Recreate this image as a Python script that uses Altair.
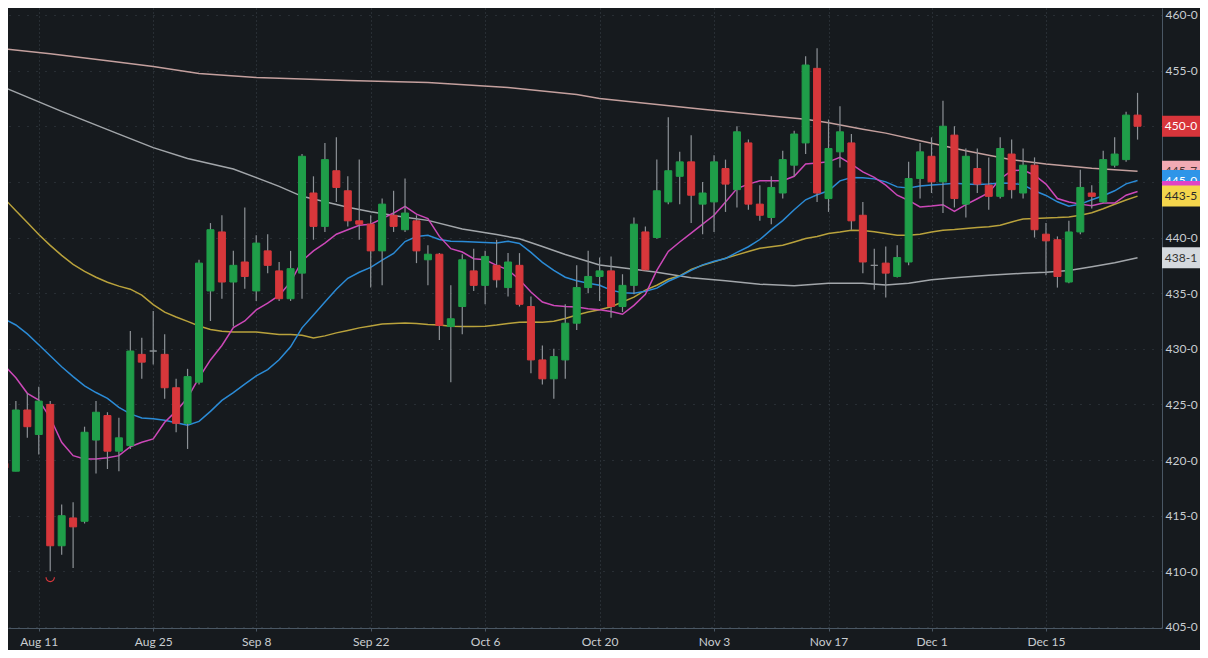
import json
import altair as alt
import pandas as pd

# ---------------- data ----------------
opens = [419.7, 419.0, 424.5, 422.3, 425.0, 412.3, 414.8, 414.5, 421.8, 424.0,
         420.8, 421.3, 429.5, 429.8, 429.5, 426.5, 423.3, 427.0, 435.2, 440.5,
         436.0, 437.8, 435.2, 438.8, 437.0, 434.5, 436.8, 444.0, 441.0, 446.0,
         444.2, 441.5, 441.2, 438.8, 442.0, 440.7, 441.5, 438.0, 438.5, 432.0,
         433.8, 437.0, 435.7, 437.5, 435.5, 437.5, 433.8, 429.0, 427.3, 429.0,
         432.3, 435.5, 436.5, 437.0, 433.8, 435.7, 440.5, 440.0, 443.2, 445.5,
         446.8, 443.0, 443.2, 446.2, 444.3, 448.5, 443.0, 441.8, 444.0, 446.5,
         448.5, 455.2, 443.5, 447.7, 448.5, 442.0, 437.5, 437.7, 436.5, 437.8,
         445.3, 447.3, 445.0, 449.2, 443.0, 446.2, 444.7, 443.7, 447.5, 444.0,
         446.5, 440.3, 439.8, 436.0, 440.5, 444.0, 443.2, 446.5, 447.0, 451.0]
highs = [420.2, 425.3, 426.0, 426.6, 425.3, 416.0, 416.2, 423.0, 425.3, 424.3,
         423.8, 431.6, 431.0, 433.4, 431.3, 427.3, 428.2, 438.0, 441.3, 442.0,
         438.8, 442.7, 440.2, 440.3, 437.8, 438.8, 447.5, 445.5, 448.5, 449.0,
         445.5, 447.0, 442.0, 443.5, 444.2, 445.3, 442.0, 439.3, 438.6, 435.7,
         438.5, 439.0, 438.8, 439.8, 438.6, 438.6, 434.7, 430.3, 430.0, 434.0,
         437.5, 438.8, 438.2, 438.3, 436.7, 441.8, 441.0, 447.0, 450.8, 447.7,
         449.2, 445.0, 447.4, 447.0, 450.0, 448.8, 444.7, 445.5, 447.8, 449.6,
         456.3, 457.0, 450.6, 451.8, 449.3, 443.2, 439.0, 439.2, 439.3, 446.8,
         448.5, 449.0, 452.3, 450.0, 448.0, 448.0, 447.2, 449.0, 448.8, 448.0,
         447.2, 441.3, 440.1, 441.5, 446.1, 444.7, 447.8, 449.0, 451.3, 453.0]
lows = [419.0, 419.0, 422.0, 420.5, 410.0, 411.5, 410.3, 414.3, 418.8, 419.2,
        419.0, 421.0, 427.3, 428.6, 425.5, 422.5, 421.0, 426.8, 432.5, 434.5,
        432.0, 435.4, 434.3, 436.8, 434.3, 434.3, 434.5, 439.8, 440.5, 443.2,
        441.0, 439.8, 435.5, 435.7, 440.5, 440.5, 437.7, 435.7, 430.8, 427.0,
        431.3, 435.2, 434.0, 435.5, 434.7, 433.8, 427.8, 426.8, 425.5, 427.3,
        431.7, 435.0, 434.3, 432.8, 433.3, 434.9, 437.0, 439.9, 443.0, 443.0,
        441.3, 440.3, 440.5, 442.3, 442.7, 442.5, 441.5, 441.2, 443.5, 445.5,
        447.5, 443.2, 442.3, 446.3, 440.7, 436.8, 435.3, 434.6, 436.4, 437.5,
        443.5, 444.0, 442.2, 442.7, 441.8, 444.0, 442.5, 443.5, 443.5, 443.5,
        440.0, 436.6, 435.5, 435.9, 440.3, 442.6, 443.1, 446.3, 446.8, 448.8]
closes = [419.3, 424.5, 423.0, 425.3, 412.3, 415.0, 414.0, 422.5, 424.3, 420.8,
          422.0, 429.8, 428.8, 429.8, 426.5, 423.3, 427.5, 437.7, 440.7, 436.0,
          437.5, 436.5, 439.5, 437.5, 434.5, 437.2, 447.3, 441.0, 447.0, 444.5,
          441.5, 441.2, 438.8, 443.0, 441.0, 442.2, 438.8, 438.5, 432.1, 432.7,
          438.0, 435.7, 438.3, 436.2, 437.8, 434.0, 429.0, 427.3, 429.3, 432.3,
          435.5, 436.5, 437.0, 433.8, 435.7, 441.2, 437.1, 444.2, 446.0, 446.8,
          443.8, 444.0, 446.8, 444.8, 449.5, 443.0, 442.0, 444.5, 447.0, 449.3,
          455.5, 444.0, 448.0, 449.5, 441.5, 437.8, 437.5, 436.8, 438.2, 445.3,
          447.7, 445.0, 450.0, 443.5, 447.3, 444.8, 443.7, 448.0, 444.3, 446.5,
          440.7, 439.7, 436.5, 440.5, 444.5, 443.7, 447.0, 447.5, 451.0, 450.0]

ma_pink = [428.5, 427.4, 426.0, 425.4, 423.8, 421.6, 420.4, 420.1, 420.1, 420.2,
           420.4, 421.2, 421.6, 421.9, 423.4, 424.4, 425.6, 427.4, 429.0, 430.3,
           431.9, 432.5, 433.5, 434.1, 434.8, 436.0, 437.9, 438.8, 439.5, 440.3,
           440.7, 441.1, 441.2, 441.7, 442.2, 442.8, 442.1, 441.7, 440.1, 439.0,
           438.7, 438.1, 438.0, 437.5, 437.1, 436.2, 435.1, 434.2, 433.9, 433.8,
           433.75, 433.6, 433.5, 433.35, 433.1, 433.9, 434.9, 437.05, 438.75, 439.6,
           440.4, 441.2, 442.0, 443.2, 444.4, 444.8, 445.1, 445.1, 445.1, 445.5,
           446.6, 446.7, 446.8, 447.2, 446.6, 445.9, 445.4, 444.7, 443.8, 443.33,
           442.74, 442.83, 442.95, 442.35, 442.95, 443.48, 444.02, 445.27, 446.0, 446.07,
           445.6, 444.8, 443.5, 443.2, 443.0, 442.86, 443.1, 443.1, 443.8, 444.13]
ma_blue = [432.68, 432.14, 431.34, 430.36, 429.38, 428.39, 427.5, 426.67, 426.07, 425.54,
           424.73, 424.15, 423.79, 423.72, 423.57, 423.35, 423.13, 423.48, 424.38, 425.36,
           426.07, 426.83, 427.56, 428.13, 429.02, 430.18, 431.88, 433.04, 434.2, 435.36,
           436.34, 436.88, 437.32, 437.97, 438.57, 439.64, 440.09, 440.2, 439.82, 439.67,
           439.64, 439.6, 439.55, 439.5, 439.67, 439.46, 438.66, 437.77, 437.05, 436.43,
           436.12, 435.9, 435.71, 435.27, 435.04, 435.0, 435.18, 435.45, 436.07, 436.52,
           437.05, 437.54, 437.86, 438.12, 438.66, 439.17, 439.82, 440.71, 441.52, 442.5,
           443.39, 443.84, 444.2, 445.09, 445.4, 445.36, 445.27, 445.0, 444.55, 444.46,
           444.62, 444.73, 444.78, 444.87, 444.82, 444.76, 444.82, 444.91, 444.88, 444.73,
           444.2, 443.78, 443.21, 442.81, 443.0, 443.39, 443.75, 444.2, 444.82, 445.12]
ma_yellow = [443.48, 442.41, 441.34, 440.27, 439.29, 438.39, 437.59, 436.96, 436.43, 435.98,
             435.63, 435.36, 434.82, 433.97, 433.3, 432.86, 432.46, 432.05, 431.74, 431.58,
             431.52, 431.52, 431.52, 431.4, 431.28, 431.28, 431.21, 430.98, 431.16, 431.43,
             431.65, 431.88, 432.05, 432.23, 432.28, 432.32, 432.28, 432.19, 432.14, 432.03,
             432.01, 432.01, 432.03, 432.14, 432.28, 432.38, 432.41, 432.38, 432.47, 432.72,
             433.04, 433.3, 433.51, 433.78, 434.2, 434.64, 435.27, 435.71, 436.25, 436.56,
             437.14, 437.5, 437.81, 438.13, 438.44, 438.75, 439.04, 439.17, 439.31, 439.6,
             439.91, 440.09, 440.36, 440.49, 440.65, 440.62, 440.51, 440.36, 440.21, 440.21,
             440.3, 440.49, 440.65, 440.71, 440.8, 440.89, 440.96, 441.1, 441.4, 441.67,
             441.7, 441.76, 441.79, 441.85, 442.01, 442.23, 442.59, 442.99, 443.37, 443.72]
ma_gray_idx = [0, 5, 10, 13, 16, 20, 24, 26, 28, 30, 32, 35, 37, 40, 43, 45, 47, 49, 52,
               55, 57, 60, 63, 66, 69, 72, 75, 77, 79, 81, 83, 86, 89, 91, 93, 95, 97, 99]
ma_gray = [453.48, 451.34, 449.29, 448.08, 447.1, 446.16, 444.6, 443.7, 443.21, 442.72,
           442.32, 441.83, 441.54, 440.76, 440.27, 439.88, 439.2, 438.48, 437.53,
           437.14, 436.88, 436.38, 436.12, 435.8, 435.67, 435.89, 435.89, 435.74, 435.89,
           436.2, 436.38, 436.61, 436.79, 436.88, 437.03, 437.38, 437.74, 438.19]
ma_rosy_idx = [0, 4, 9, 13, 17, 22, 30, 37, 44, 50, 52, 61, 67, 70, 72, 75, 77, 80,
               84, 88, 91, 95, 99]
ma_rosy = [456.96, 456.52, 455.89, 455.36, 454.73, 454.38, 454.11, 453.93, 453.48,
           452.86, 452.5, 451.52, 450.92, 450.63, 450.31, 449.73, 449.38, 448.69,
           447.79, 446.99, 446.61, 446.22, 445.96]

tick_index = [3, 13, 22, 32, 42, 52, 62, 72, 81, 91]
tick_labels = ["Aug 11", "Aug 25", "Sep 8", "Sep 22", "Oct 6", "Oct 20",
               "Nov 3", "Nov 17", "Dec 1", "Dec 15"]
y_ticks = list(range(405, 461, 5))

tag_texts = {"rosy": "445-7", "blue": "445-0", "pink": "444-1",
             "yellow": "443-5", "gray": "438-1", "close": "450-0"}

# ---------------- styling ----------------
BG = "#161a1e"
GRID = "#3b424a"
AXIS = "#4a5764"
LABEL = "#c9cdd1"
UP = "#1f9e49"
DOWN = "#d7373b"
WICK = "#8c9196"
COL = {"rosy": "#c4a09e", "gray": "#a2a6aa", "yellow": "#b9a23c",
       "blue": "#2b8bd6", "pink": "#cc48b8"}
TAG_BOX = {"rosy": "#f2aab3", "blue": "#2e95e8", "pink": "#e043c6",
           "yellow": "#f4d54c", "gray": "#d5d9de", "close": "#d8353b"}
TAG_TXT = {"rosy": "#4a3434", "blue": "#ffffff", "pink": "#ffffff",
           "yellow": "#2a2a2a", "gray": "#333333", "close": "#ffffff"}

W, H = 1154, 620
RIGHT = 38
BOTTOM = 22

# ---------------- frames ----------------
n = len(opens)
df = pd.DataFrame({"i": list(range(n)), "o": opens, "h": highs, "l": lows, "c": closes})
df["dir"] = ["up" if c > o else ("down" if c < o else "flat") for o, c in zip(opens, closes)]

xscale = alt.Scale(domain=[0.748, 100.70], nice=False, zero=False)
yscale = alt.Scale(domain=[404.91, 460.625], nice=False, zero=False)

label_expr = f"{json.dumps(tick_labels)}[indexof({json.dumps(tick_index)}, datum.value)]"
xaxis = alt.Axis(values=tick_index, labelExpr=label_expr, title=None, grid=True,
                 gridColor=GRID, gridDash=[1, 3], gridWidth=1,
                 domainColor=AXIS, tickColor=AXIS, tickSize=3,
                 labelColor=LABEL, labelFont="Lato", labelFontSize=12,
                 labelPadding=5, labelFlush=False, labelOverlap=False)
yaxis = alt.Axis(orient="right", values=y_ticks,
                 labelExpr="format(datum.value, 'd') + '-0'", title=None,
                 grid=True, gridColor=GRID, gridDash=[1, 8], gridWidth=1,
                 domainColor=AXIS, tickSize=0, labelColor=LABEL, labelFont="Lato",
                 labelFontSize=12, labelPadding=3, labelAlign="left",
                 labelFlush=False, labelOverlap=False)

X = alt.X("i:Q", scale=xscale, axis=xaxis)
dir_scale = alt.Scale(domain=["up", "down", "flat"], range=[UP, DOWN, WICK])

layers = []

# moving averages
ma_frames = {
    "rosy": pd.DataFrame({"i": ma_rosy_idx, "v": ma_rosy}),
    "gray": pd.DataFrame({"i": ma_gray_idx, "v": ma_gray}),
    "yellow": pd.DataFrame({"i": list(range(n)), "v": ma_yellow}),
    "blue": pd.DataFrame({"i": list(range(n)), "v": ma_blue}),
    "pink": pd.DataFrame({"i": list(range(n)), "v": ma_pink}),
}
for name, frame in ma_frames.items():
    layers.append(
        alt.Chart(frame).mark_line(color=COL[name], strokeWidth=1.5, clip=True).encode(
            x=X, y=alt.Y("v:Q", scale=yscale, axis=yaxis))
    )

# candles
wicks = alt.Chart(df).mark_rule(color=WICK, strokeWidth=1.2, clip=True).encode(
    x=X, y=alt.Y("l:Q", scale=yscale, axis=yaxis), y2="h:Q")
bodies = alt.Chart(df).mark_bar(size=7, strokeWidth=1, clip=True).encode(
    x=X, y=alt.Y("o:Q", scale=yscale, axis=yaxis), y2="c:Q",
    color=alt.Color("dir:N", scale=dir_scale, legend=None),
    stroke=alt.Stroke("dir:N", scale=dir_scale, legend=None))
layers += [wicks, bodies]

# lowest-low marker
low_i = min(range(n), key=lambda k: lows[k])
low_df = pd.DataFrame({"i": [low_i], "l": [lows[low_i]]})
layers.append(
    alt.Chart(low_df).mark_point(shape="M -1 0 A 1 1 0 0 0 1 0", filled=False,
                                 color=DOWN, strokeWidth=1.2, size=70, yOffset=6,
                                 opacity=1, clip=True).encode(
        x=X, y=alt.Y("l:Q", scale=yscale, axis=yaxis))
)

# price tags on the right
ends = {"rosy": ma_rosy[-1], "blue": ma_blue[-1], "pink": ma_pink[-1],
        "yellow": ma_yellow[-1], "gray": ma_gray[-1], "close": closes[-1]}
half_w = RIGHT / 2
hh = 10.5 / half_w
box_path = f"M -1 -{hh:.4f} L 1 -{hh:.4f} L 1 {hh:.4f} L -1 {hh:.4f} Z"
for name in ["rosy", "blue", "pink", "yellow", "gray", "close"]:
    tdf = pd.DataFrame({"v": [ends[name]], "t": [tag_texts[name]]})
    layers.append(
        alt.Chart(tdf).mark_point(shape=box_path, filled=True, size=RIGHT * RIGHT,
                                  opacity=1, color=TAG_BOX[name], strokeWidth=0).encode(
            x=alt.value(W + half_w), y=alt.Y("v:Q", scale=yscale, axis=yaxis))
    )
    layers.append(
        alt.Chart(tdf).mark_text(font="Lato", fontSize=12, align="center",
                                 baseline="middle", color=TAG_TXT[name]).encode(
            x=alt.value(W + half_w), y=alt.Y("v:Q", scale=yscale, axis=yaxis),
            text="t:N")
    )

chart = alt.layer(*layers).properties(
    width=W, height=H,
    padding={"left": 0, "top": 0, "right": RIGHT, "bottom": BOTTOM},
    autosize=alt.AutoSizeParams(type="none"),
    background=BG,
).configure_view(stroke=None)

chart.save("out.html", embed_options={"renderer": "svg", "actions": False})
